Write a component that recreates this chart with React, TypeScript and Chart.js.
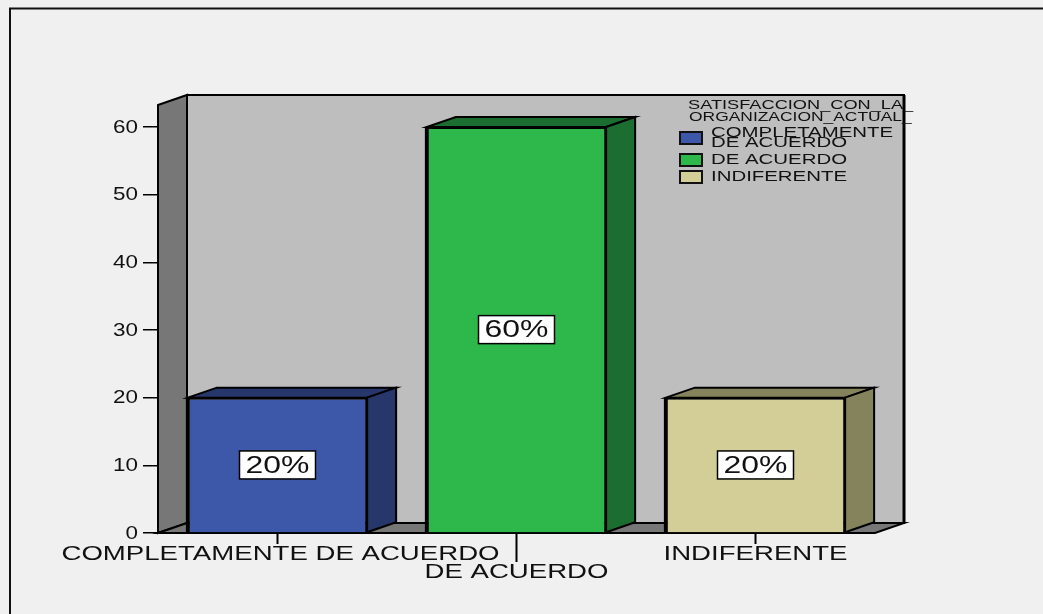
import React, { useEffect, useRef } from "react";
import { Chart, registerables } from "chart.js";

Chart.register(...registerables);

const categories = ["COMPLETAMENTE DE ACUERDO", "DE ACUERDO", "INDIFERENTE"];
const values = [20, 60, 20];
const percentLabels = ["20%", "60%", "20%"];
const frontColors = ["#3e58a9", "#2eb84c", "#d3ce97"];
const sideColors = ["#27366b", "#1b6e2f", "#85835c"];
const legendTitle = ["SATISFACCION_CON_LA_", "ORGANIZACION_ACTUAL_"];
const legendLines = [["COMPLETAMENTE", "DE ACUERDO"], ["DE ACUERDO"], ["INDIFERENTE"]];
const yTicks = [0, 10, 20, 30, 40, 50, 60];

const FONT = '"Liberation Sans", Arial, sans-serif';
const DX = 29;
const DY = 10;

function poly(ctx: CanvasRenderingContext2D, pts: number[][], fill: string) {
  ctx.beginPath();
  pts.forEach((p, i) => (i ? ctx.lineTo(p[0], p[1]) : ctx.moveTo(p[0], p[1])));
  ctx.closePath();
  ctx.fillStyle = fill;
  ctx.fill();
  ctx.strokeStyle = "#000";
  ctx.lineWidth = 2;
  ctx.lineJoin = "miter";
  ctx.stroke();
}

function line(ctx: CanvasRenderingContext2D, x0: number, y0: number, x1: number, y1: number, w: number) {
  ctx.strokeStyle = "#000";
  ctx.lineWidth = w;
  ctx.beginPath();
  ctx.moveTo(x0, y0);
  ctx.lineTo(x1, y1);
  ctx.stroke();
}

function wideText(
  ctx: CanvasRenderingContext2D,
  text: string,
  x: number,
  y: number,
  size: number,
  align: CanvasTextAlign,
  stretch: number
) {
  ctx.save();
  ctx.translate(x, y);
  ctx.scale(stretch, 1);
  ctx.font = `${size}px ${FONT}`;
  ctx.fillStyle = "#111";
  ctx.textAlign = align;
  ctx.textBaseline = "middle";
  ctx.fillText(text, 0, 0);
  ctx.restore();
}

const scene3d = {
  id: "scene3d",
  beforeDraw(chart: any) {
    const { ctx, width, height } = chart;
    ctx.save();
    ctx.fillStyle = "#f0f0f0";
    ctx.fillRect(0, 0, width, height);
    ctx.strokeStyle = "#111";
    ctx.lineWidth = 2;
    ctx.beginPath();
    ctx.moveTo(10, height);
    ctx.lineTo(10, 8.5);
    ctx.lineTo(width, 8.5);
    ctx.stroke();
    ctx.restore();
  },
  beforeDatasetsDraw(chart: any) {
    const { ctx, chartArea: a } = chart;
    ctx.save();
    poly(ctx, [[a.left + DX, a.top - DY], [a.right + DX, a.top - DY], [a.right + DX, a.bottom - DY], [a.left + DX, a.bottom - DY]], "#bebebe");
    line(ctx, a.right + DX, a.top - DY, a.right + DX, a.bottom - DY, 3);
    poly(ctx, [[a.left, a.top], [a.left + DX, a.top - DY], [a.left + DX, a.bottom - DY], [a.left, a.bottom]], "#777777");
    poly(ctx, [[a.left, a.bottom], [a.left + DX, a.bottom - DY], [a.right + DX, a.bottom - DY], [a.right, a.bottom]], "#777777");

    const meta = chart.getDatasetMeta(0);
    meta.data.forEach((bar: any, i: number) => {
      const l = bar.x - bar.width / 2;
      const r = bar.x + bar.width / 2;
      const t = bar.y;
      const b = bar.base;
      poly(ctx, [[l, t], [l + DX, t - DY], [r + DX, t - DY], [r, t]], sideColors[i]);
      poly(ctx, [[r, t], [r + DX, t - DY], [r + DX, b - DY], [r, b]], sideColors[i]);
    });
    ctx.restore();
  },
  afterDatasetsDraw(chart: any) {
    const { ctx, chartArea: a, scales } = chart;
    ctx.save();

    yTicks.forEach((v) => {
      wideText(ctx, String(v), a.left - 20, scales.y.getPixelForValue(v) + 1, 17.5, "right", 1.28);
    });

    categories.forEach((c, i) => {
      const x = scales.x.getPixelForTick(i);
      const stagger = i % 2 === 1;
      line(ctx, x, a.bottom, x, a.bottom + (stagger ? 29 : 11), 2);
      wideText(ctx, c, x + (i === 0 ? 3 : 0), a.bottom + (stagger ? 39 : 21), 20, "center", 1.38);
    });

    const meta = chart.getDatasetMeta(0);
    meta.data.forEach((bar: any, i: number) => {
      const cy = (bar.y + bar.base) / 2;
      line(ctx, bar.x - bar.width / 2 - 0.5, bar.y, bar.x - bar.width / 2 - 0.5, bar.base, 3);
      ctx.fillStyle = "#fff";
      ctx.strokeStyle = "#000";
      ctx.lineWidth = 1.5;
      ctx.fillRect(bar.x - 38, cy - 14, 76, 28);
      ctx.strokeRect(bar.x - 38, cy - 14, 76, 28);
      wideText(ctx, percentLabels[i], bar.x, cy + 1, 24, "center", 1.33);
    });

    wideText(ctx, legendTitle[0], 688, 105, 13, "left", 1.4);
    wideText(ctx, legendTitle[1], 689, 117, 13, "left", 1.34);
    const swatchY = [132, 154, 171];
    const textY = [[133, 143], [160], [177]];
    legendLines.forEach((lines, i) => {
      ctx.fillStyle = frontColors[i];
      ctx.strokeStyle = "#111";
      ctx.lineWidth = 2;
      ctx.fillRect(680, swatchY[i], 22, 12);
      ctx.strokeRect(680, swatchY[i], 22, 12);
      lines.forEach((t, k) => wideText(ctx, t, 711, textY[i][k], 15, "left", 1.36));
    });
    ctx.restore();
  },
};

export default function App() {
  const ref = useRef<HTMLCanvasElement>(null);
  useEffect(() => {
    document.body.style.margin = "0";
    document.body.style.background = "#f0f0f0";
    const chart = new Chart(ref.current!, {
      type: "bar",
      data: {
        labels: categories,
        datasets: [
          {
            data: values,
            backgroundColor: frontColors,
            borderColor: "#000",
            borderWidth: 2,
            categoryPercentage: 1,
            barPercentage: 0.75,
          },
        ],
      },
      options: {
        responsive: false,
        animation: false,
        layout: { padding: { top: 105, right: 168, bottom: 0, left: 0 } },
        plugins: { legend: { display: false }, tooltip: { enabled: false } },
        scales: {
          x: {
            afterFit: (s: any) => {
              s.height = 81;
            },
            grid: { display: false },
            border: { display: false },
            ticks: { display: false },
          },
          y: {
            min: 0,
            max: 63.25,
            afterFit: (s: any) => {
              s.width = 158;
            },
            grid: { drawOnChartArea: false, color: "#000", lineWidth: 1.5, tickLength: 15 },
            border: { display: false },
            ticks: { display: false, stepSize: 10, includeBounds: false },
          },
        },
      },
      plugins: [scene3d],
    } as any);
    return () => chart.destroy();
  }, []);
  return <canvas ref={ref} width={1043} height={614} style={{ display: "block" }} />;
}
